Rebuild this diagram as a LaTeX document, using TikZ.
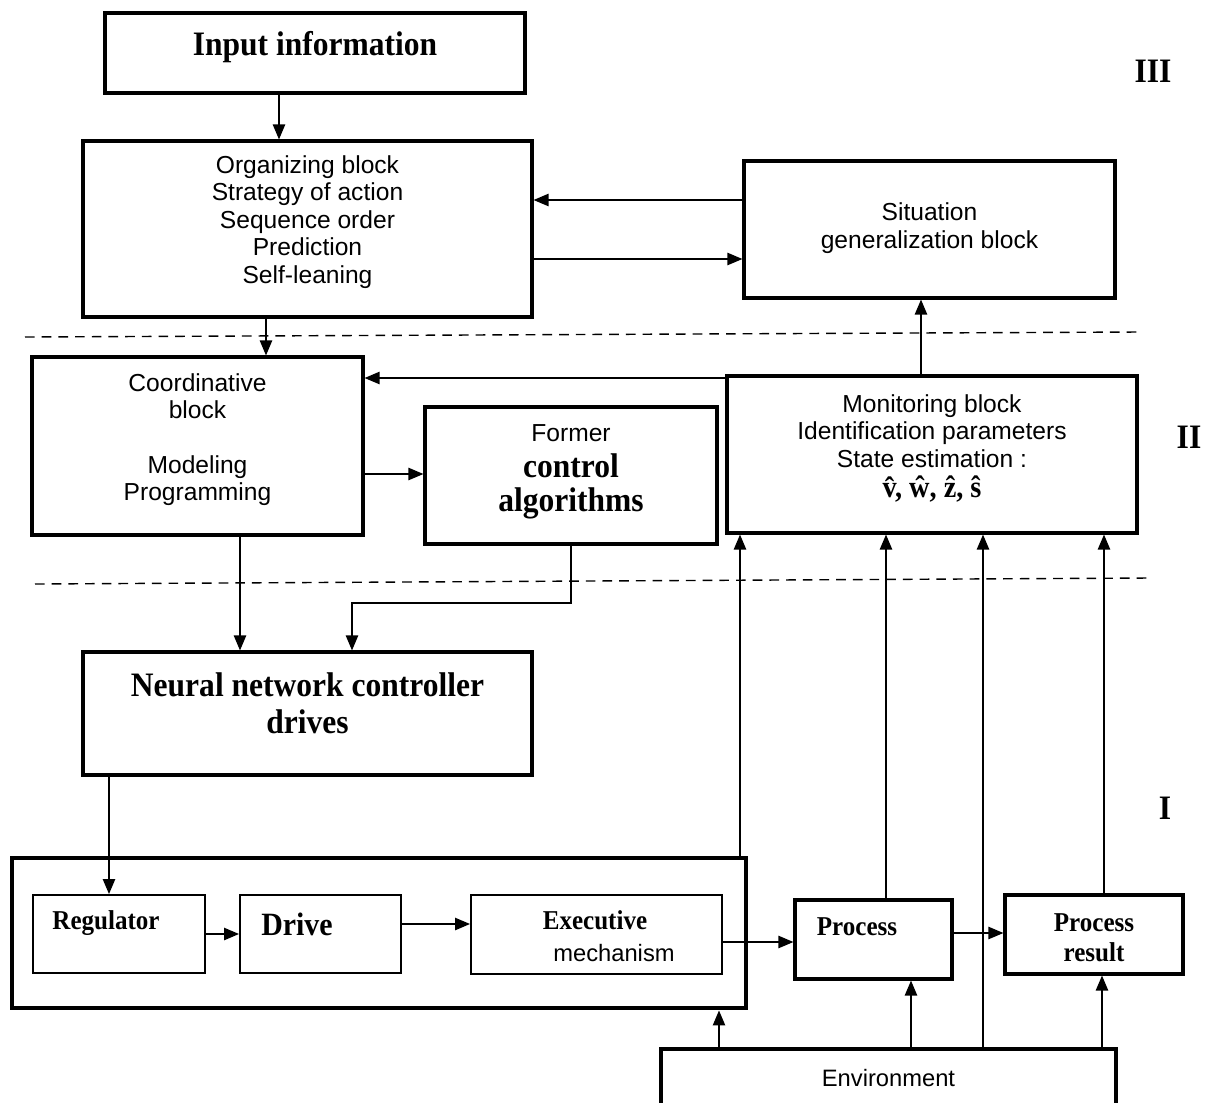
\documentclass[tikz,border=0pt]{standalone}
\usepackage{fontspec}
\usepackage{tikz}
\usetikzlibrary{arrows.meta}
\newfontfamily\blocksans{Liberation Sans}
\newfontfamily\blockserif[FakeStretch=0.92]{Liberation Serif}
\newdimen\dpx \dpx=0.02cm
\newcommand\sanstext{\blocksans\fontsize{14}{15.6}\selectfont}
\newcommand\bighead{\blockserif\bfseries\fontsize{19.5}{20.5}\selectfont}
\newcommand\smallhead{\blockserif\bfseries\fontsize{15.5}{17}\selectfont}

\begin{document}
\begin{tikzpicture}[x=0.02cm, y=-0.02cm,
  blk/.style={draw, line width=1.8pt, inner sep=0pt},
  unit/.style={draw, line width=1.1pt, inner sep=0pt},
  frame/.style={draw, line width=2.8pt, inner sep=0pt},
  txt/.style={font=\sanstext, align=center, inner sep=0pt},
  head/.style={font=\bighead, align=center, inner sep=0pt},
  arr/.style={line width=0.8pt, -{Triangle[length=8.5pt,width=7pt]}},
  divider/.style={line width=0.8pt, dash pattern=on 5.5pt off 4pt}]
  \useasboundingbox (0,0) rectangle (1205,1103);

  % level III
  \node[blk, minimum width=420\dpx, minimum height=80\dpx]  (input) at (315,53) {};
  \node[head] (inputtxt) at (315,47) {Input information};
  \node[blk, minimum width=449\dpx, minimum height=176\dpx] (org) at (307.5,229) {};
  \node[txt] (orgtxt) at (307.5,222) {Organizing block\\Strategy of action\\Sequence order\\Prediction\\Self-leaning};
  \node[blk, minimum width=371\dpx, minimum height=137\dpx] (sit) at (929.5,229.5) {};
  \node[txt] (sittxt) at (929.5,228) {Situation\\generalization block};

  % level II
  \node[blk, minimum width=331\dpx, minimum height=178\dpx] (coord) at (197.5,446) {};
  \node[txt] (coordtxt) at (197.5,439.5) {Coordinative\\block\\[15.6pt]Modeling\\Programming};
  \node[blk, minimum width=292\dpx, minimum height=137\dpx] (former) at (571,475.5) {};
  \node[txt] (formerhead) at (571,433) {Former};
  \node[head, font=\blockserif\bfseries\fontsize{19.5}{19.3}\selectfont] (formertxt) at (571,486) {control\\algorithms};
  \node[blk, minimum width=410\dpx, minimum height=157\dpx] (mon) at (932,454.5) {};
  \node[txt] (montxt) at (932,431) {Monitoring block\\Identification parameters\\State estimation :};
  \node[head, font=\blockserif\bfseries\fontsize{17.5}{19}\selectfont] (monhat) at (932,489) {\^v, \^w, \^z, \^s};

  % level I
  \node[blk, minimum width=449\dpx, minimum height=123\dpx] (neural) at (307.5,713.5) {};
  \node[head, font=\blockserif\bfseries\fontsize{19.5}{21}\selectfont] (neuraltxt) at (307.5,703) {Neural network controller\\drives};
  \node[frame, minimum width=734\dpx, minimum height=150\dpx] (drivegroup) at (379,933) {};
  \node[unit, minimum width=172\dpx, minimum height=78\dpx] (reg) at (119,934) {};
  \node[font=\smallhead, inner sep=0pt] (regtxt) at (106,923) {Regulator};
  \node[unit, minimum width=161\dpx, minimum height=78\dpx] (drive) at (320.5,934) {};
  \node[font=\blockserif\bfseries\fontsize{18.5}{20}\selectfont, inner sep=0pt] (drivetxt) at (297,924) {Drive};
  \node[unit, minimum width=251\dpx, minimum height=79\dpx] (exec) at (596.5,934.5) {};
  \node[font=\smallhead, inner sep=0pt] (exectxt) at (595,920) {Executive};
  \node[font=\blocksans\fontsize{13.5}{15}\selectfont, inner sep=0pt] (execsub) at (614,953) {mechanism};
  \node[blk, minimum width=157\dpx, minimum height=79\dpx] (proc) at (873.5,939.5) {};
  \node[font=\smallhead, inner sep=0pt] (proctxt) at (857,927) {Process};
  \node[blk, minimum width=178\dpx, minimum height=79\dpx] (res) at (1094,934.5) {};
  \node[font=\smallhead, align=center, inner sep=0pt] (restxt) at (1094,938) {Process\\result};
  \node[blk, minimum width=455\dpx, minimum height=72\dpx] (env) at (888.5,1085) {};
  \node[font=\blocksans\fontsize{13.5}{15}\selectfont, inner sep=0pt] (envtxt) at (888.5,1078) {Environment};

  % level marks
  \node[head] (lvl3) at (1153,71) {III};
  \node[head] (lvl2) at (1189,437) {II};
  \node[head] (lvl1) at (1165,808) {I};

  \draw[divider] (25,337) -- (1140,332);
  \draw[divider] (35,584) -- (1150,578);

  % links between the blocks
  \draw[arr] (input.south -| 279,0) -- (org.north -| 279,0);
  \draw[arr] (sit.west |- 0,200) -- (org.east |- 0,200);
  \draw[arr] (org.east |- 0,259) -- (sit.west |- 0,259);
  \draw[arr] (org.south -| 266,0) -- (coord.north -| 266,0);
  \draw[arr] (mon.west |- 0,378) -- (coord.east |- 0,378);
  \draw[arr] (coord.east |- 0,474) -- (former.west |- 0,474);
  \draw[arr] (mon.north -| 921,0) -- (sit.south -| 921,0);
  \draw[arr] (coord.south -| 240,0) -- (neural.north -| 240,0);
  \draw[arr] (former.south) |- (352,603) -- (neural.north -| 352,0);
  \draw[arr] (neural.south -| 109,0) -- (reg.north -| 109,0);
  \draw[arr] (reg.east |- 0,934) -- (drive.west |- 0,934);
  \draw[arr] (drive.east |- 0,924) -- (exec.west |- 0,924);
  \draw[arr] (exec.east |- 0,942) -- (proc.west |- 0,942);
  \draw[arr] (proc.east |- 0,933) -- (res.west |- 0,933);

  % environment and feedback to monitoring
  \draw[arr] (env.north -| 719,0) -- (drivegroup.south -| 719,0);
  \draw[arr] (env.north -| 911,0) -- (proc.south -| 911,0);
  \draw[arr] (env.north -| 1102,0) -- (res.south -| 1102,0);
  \draw[arr] (env.north -| 983,0) -- (mon.south -| 983,0);
  \draw[arr] (drivegroup.north -| 740,0) -- (mon.south -| 740,0);
  \draw[arr] (proc.north -| 886,0) -- (mon.south -| 886,0);
  \draw[arr] (res.north -| 1104,0) -- (mon.south -| 1104,0);
\end{tikzpicture}
\end{document}
